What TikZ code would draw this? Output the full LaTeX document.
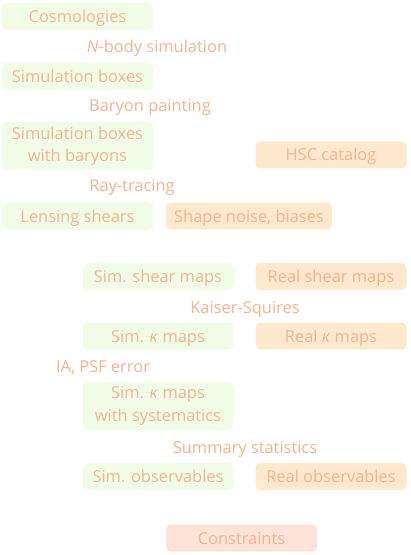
\documentclass[tikz,border=0pt]{standalone}
\usepackage{fontspec}
\setmainfont{Open Sans}
\definecolor{txt}{RGB}{242,180,148}
\definecolor{simfill}{RGB}{241,252,230}
\definecolor{realfill}{RGB}{255,233,206}
\definecolor{confill}{RGB}{253,226,216}
\begin{document}
\begin{tikzpicture}[x=1bp,y=-1bp,
  every node/.style={font=\fontsize{16.5}{22.5}\selectfont, text=txt, text height=12bp, text depth=0pt},
  box/.style={rounded corners=5bp, minimum width=151bp, minimum height=27bp, inner sep=0pt, align=center},
  simbox/.style={box, fill=simfill},
  realbox/.style={box, fill=realfill},
  conbox/.style={box, fill=confill},
  tall/.style={minimum height=48bp, text height=, text depth=},
  steplabel/.style={inner sep=0pt}]
\useasboundingbox (0,0) rectangle (410,555);
% simulation column
\node[simbox] (cosmo) at (77.5,16.5) {Cosmologies};
\node[steplabel] (nbody) at (157,47) {\textit{N}-body simulation};
\node[simbox] (simbox) at (77.5,76.5) {Simulation boxes};
\node[steplabel] (baryon) at (150,106) {Baryon painting};
\node[simbox,tall] (simbar) at (77.5,146) {Simulation boxes\\with baryons};
\node[realbox] (hsc) at (331,155) {HSC catalog};
\node[steplabel] (ray) at (132,186) {Ray-tracing};
\node[simbox] (lens) at (77.5,216) {Lensing shears};
\node[realbox, minimum width=166bp] (noise) at (249,216) {Shape noise, biases};
\node[simbox] (simshear) at (158,276.5) {Sim. shear maps};
\node[realbox] (realshear) at (331,276.5) {Real shear maps};
\node[steplabel] (ks) at (245,307) {Kaiser-Squires};
\node[simbox] (simkappa) at (158,336) {Sim. \textit{κ} maps};
\node[realbox] (realkappa) at (331,336) {Real \textit{κ} maps};
\node[steplabel] (ia) at (103,366) {IA, PSF error};
\node[simbox,tall] (simsys) at (158,406) {Sim. \textit{κ} maps\\with systematics};
\node[steplabel] (summ) at (245,447) {Summary statistics};
\node[simbox] (simobs) at (158,476.5) {Sim. observables};
\node[realbox] (realobs) at (331,476.5) {Real observables};
\node[conbox] (cons) at (241.5,538) {Constraints};
\end{tikzpicture}
\end{document}
